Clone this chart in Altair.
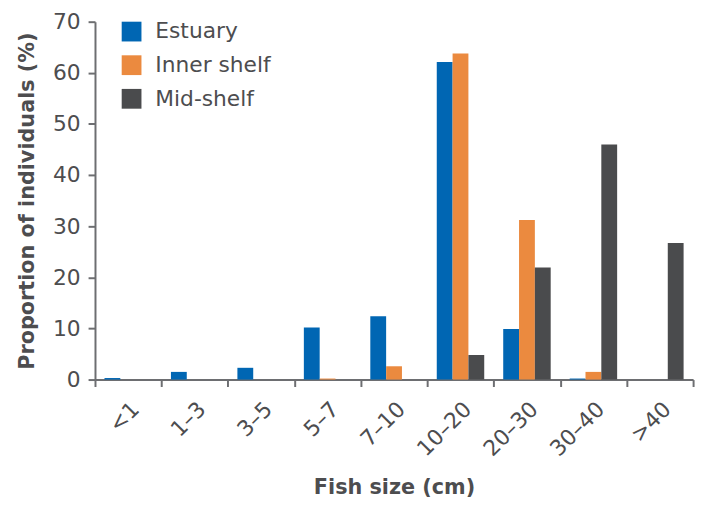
import altair as alt
import pandas as pd

sizes = ["<1", "1–3", "3–5", "5–7", "7–10", "10–20", "20–30", "30–40", ">40"]
habitats = ["Estuary", "Inner shelf", "Mid-shelf"]
estuary = [0.3, 1.5, 2.3, 10.2, 12.4, 62.1, 9.9, 0.2, 0.0]
inner_shelf = [0.0, 0.0, 0.0, 0.2, 2.6, 63.8, 31.2, 1.5, 0.0]
mid_shelf = [0.0, 0.0, 0.0, 0.0, 0.0, 4.8, 21.9, 46.0, 26.7]
colors = ["#0066b3", "#eb8a3f", "#4a4b4d"]
y_ticks = [0, 10, 20, 30, 40, 50, 60, 70]

rows = []
for i, s in enumerate(sizes):
    for h, vals in zip(habitats, [estuary, inner_shelf, mid_shelf]):
        rows.append({"size": s, "habitat": h, "value": vals[i]})
df = pd.DataFrame(rows)

font = "DejaVu Sans"
txt = "#4d4d4f"
axc = "#6d6e71"

chart = alt.Chart(df).mark_bar().encode(
    x=alt.X(
        "size:N", sort=sizes, title="Fish size (cm)",
        scale=alt.Scale(paddingInner=0, paddingOuter=0),
        axis=alt.Axis(labelAngle=-45, tickBand="extent", tickSize=7, tickWidth=2,
                      domainWidth=2, domainColor=axc, tickColor=axc,
                      labelFont=font, labelFontSize=22, labelColor=txt,
                      labelPadding=12,
                      titleFont=font, titleFontSize=21, titleFontWeight="bold",
                      titleColor=txt, titleY=115, titleBaseline="alphabetic"),
    ),
    xOffset=alt.XOffset("habitat:N", sort=habitats,
                        scale=alt.Scale(paddingOuter=0.6, paddingInner=0)),
    y=alt.Y(
        "value:Q", title="Proportion of individuals (%)",
        scale=alt.Scale(domain=[0, 70], nice=False),
        axis=alt.Axis(values=y_ticks, grid=False, tickSize=7, tickWidth=2,
                      domainWidth=2, domainColor=axc, tickColor=axc,
                      labelFont=font, labelFontSize=22, labelColor=txt, labelPadding=8,
                      titleFont=font, titleFontSize=21, titleFontWeight="bold",
                      titleColor=txt, titleX=-62, titleBaseline="alphabetic"),
    ),
    color=alt.Color(
        "habitat:N", sort=habitats,
        scale=alt.Scale(domain=habitats, range=colors),
        legend=alt.Legend(title=None, orient="none", legendX=26, legendY=-1,
                          symbolType="square", symbolSize=400, symbolStrokeWidth=0,
                          labelFont=font, labelFontSize=22, labelColor=txt,
                          labelOffset=13, rowPadding=12),
    ),
).properties(
    width=605, height=362,
    autosize=alt.AutoSizeParams(type="none"),
    padding={"left": 88, "top": 11, "right": 8, "bottom": 121},
).configure_view(stroke=None)

chart.save("out.html", embed_options={"renderer": "svg", "actions": False})
